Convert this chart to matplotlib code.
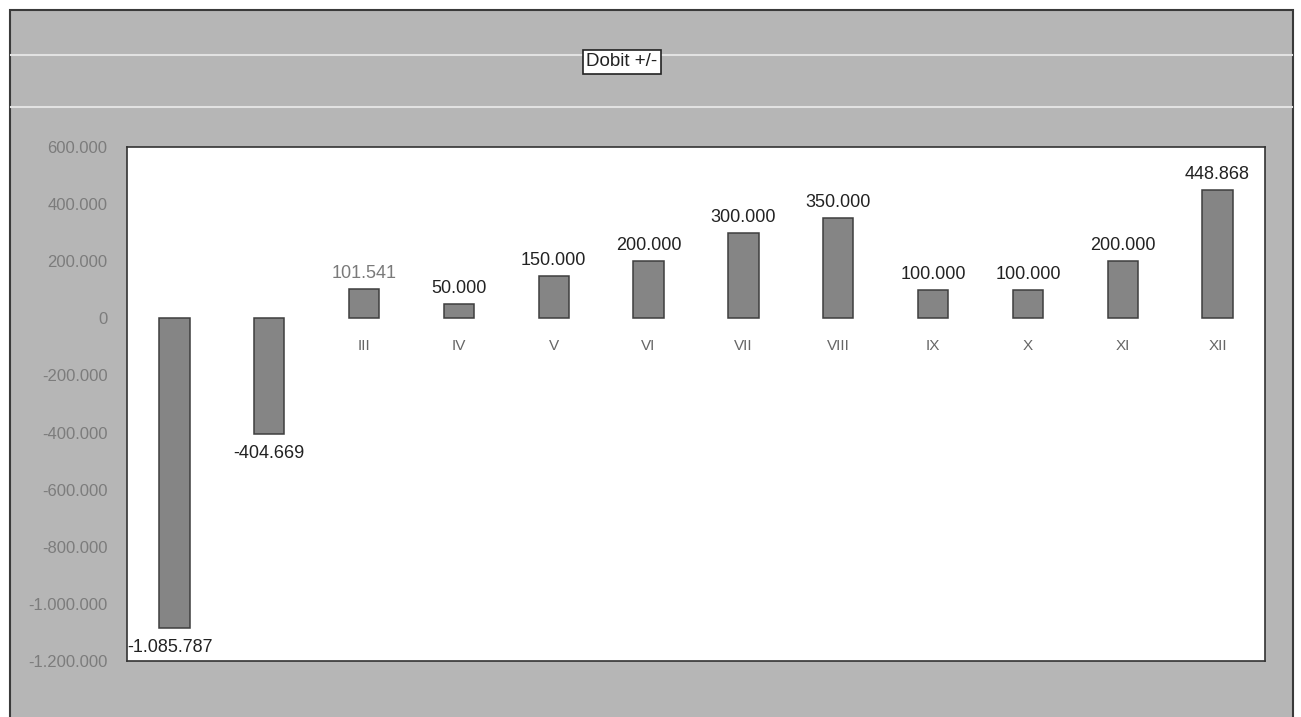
import matplotlib.pyplot as plt
from matplotlib.patches import Rectangle
from matplotlib.lines import Line2D
from matplotlib.ticker import FuncFormatter

# data
months = ['I', 'II', 'III', 'IV', 'V', 'VI', 'VII', 'VIII', 'IX', 'X', 'XI', 'XII']
values = [-1085787, -404669, 101541, 50000, 150000, 200000,
          300000, 350000, 100000, 100000, 200000, 448868]
title = 'Dobit +/-'

plt.rcParams['font.family'] = ['Liberation Sans', 'DejaVu Sans']


def fmt_dot(v, pos=None):
    # thousands with a dot, like the original sheet
    s = '{:,.0f}'.format(abs(v)).replace(',', '.')
    return ('-' if v < 0 else '') + s


W, H = 1301, 717
fig = plt.figure(figsize=(W / 100, H / 100), dpi=100, facecolor='white')

# gray chart frame (behind the axes)
fig.patches.append(Rectangle((10 / W, -0.02), 1283 / W, 707 / H + 0.02, transform=fig.transFigure,
                             facecolor='#b6b6b6', edgecolor='#3a3a3a', linewidth=1.5, zorder=-2))
for yy in (55, 107):
    fig.lines.append(Line2D([11 / W, 1292 / W], [1 - yy / H, 1 - yy / H], transform=fig.transFigure,
                            color='#e2e2e2', linewidth=1.5, zorder=-1))

ax = fig.add_axes([127 / W, 56 / H, 1138 / W, 514 / H])
ax.set_facecolor('white')
for sp in ax.spines.values():
    sp.set_color('#333333')
    sp.set_linewidth(1.2)

x = range(len(months))
ax.bar(x, values, width=0.32, color='#858585', edgecolor='#3e3e3e', linewidth=1.1, zorder=2)

ax.set_xlim(-0.5, len(months) - 0.5)
ax.set_ylim(-1200000, 600000)
ax.set_yticks(range(-1200000, 600001, 200000))
ax.yaxis.set_major_formatter(FuncFormatter(fmt_dot))
ax.tick_params(axis='y', length=0, pad=14, labelsize=12, labelcolor='#7c7c7c')
ax.set_xticks([])

# month labels sit just under the zero line (hidden behind negative bars)
for i, m in enumerate(months):
    ax.annotate(m, (i, 0), xytext=(0, -20), textcoords='offset points',
                ha='center', va='center', fontsize=11, color='#666666', zorder=1)

# value labels
for i, v in enumerate(values):
    off = 5 if v >= 0 else -8
    ax.annotate(fmt_dot(v), (i, v), xytext=(-3 if i == 0 else 0, off), textcoords='offset points',
                ha='center', va='bottom' if v >= 0 else 'top',
                fontsize=13, color='#7a7a7a' if i == 2 else '#222222', zorder=3,
                annotation_clip=False)

fig.text(622 / W, 1 - 62 / H, title, ha='center', va='center', fontsize=13.5, color='#222222',
         bbox=dict(boxstyle='square,pad=0.2', facecolor='white', edgecolor='#222222', linewidth=1.2))

fig.savefig('out.png', dpi=100, facecolor=fig.get_facecolor())
